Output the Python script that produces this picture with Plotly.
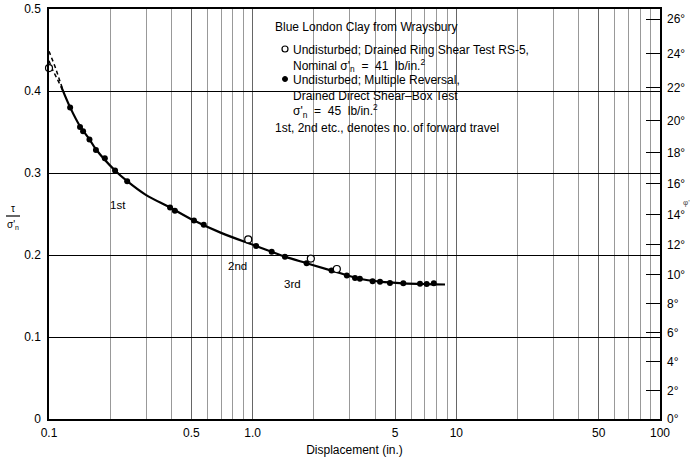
import math
import plotly.graph_objects as go

# ---- data ----
curve_x = [0.115, 0.127, 0.142, 0.158, 0.170, 0.211, 0.242, 0.30, 0.393, 0.515, 0.70,
           1.04, 1.44, 1.84, 2.44, 3.36, 4.22, 5.49, 7.15, 8.8]
curve_y = [0.405, 0.380, 0.357, 0.341, 0.329, 0.303, 0.290, 0.273, 0.258, 0.242, 0.227,
           0.211, 0.198, 0.190, 0.181, 0.171, 0.1675, 0.1655, 0.1645, 0.164]

dashA_x = [0.1, 0.107, 0.1175]
dashA_y = [0.4486, 0.430, 0.400]
dashB_x = [0.1, 0.1031, 0.1175]
dashB_y = [0.437, 0.428, 0.400]

box_x = [0.127, 0.142, 0.147, 0.158, 0.170, 0.188, 0.211, 0.242, 0.393, 0.415, 0.515, 0.575,
         1.04, 1.24, 1.44, 1.84, 2.44, 2.90, 3.18, 3.36, 3.88, 4.22, 4.72, 5.49, 6.63, 7.15, 7.75]
box_y = [0.380, 0.356, 0.351, 0.341, 0.328, 0.318, 0.303, 0.290, 0.258, 0.254, 0.242, 0.237,
         0.211, 0.204, 0.198, 0.190, 0.181, 0.175, 0.172, 0.171, 0.168, 0.1675, 0.166, 0.1655,
         0.1648, 0.1645, 0.1655]

ring_x = [0.1, 0.951, 1.93, 2.59]
ring_y = [0.428, 0.219, 0.1957, 0.1829]

x_tickvals = [0.1, 0.5, 1, 5, 10, 50, 100]
x_ticktext = ["0.1", "0.5", "1.0", "5", "10", "50", "100"]
minor_vals = [m * d for d in (0.1, 1, 10) for m in range(2, 10)]
deg_labels = list(range(0, 27, 2))

travel_labels = ["1st", "2nd", "3rd"]
travel_x = [0.218, 0.847, 1.56]
travel_y = [0.261, 0.186, 0.165]

FONT = "Liberation Sans, Arial, sans-serif"

fig = go.Figure()
fig.add_trace(go.Scatter(x=dashA_x, y=dashA_y, mode="lines",
                         line=dict(color="black", width=1.5, dash="4px,3px"), showlegend=False))
fig.add_trace(go.Scatter(x=dashB_x, y=dashB_y, mode="lines",
                         line=dict(color="black", width=1.5, dash="4px,3px"), showlegend=False))
fig.add_trace(go.Scatter(x=curve_x, y=curve_y, mode="lines", line_shape="spline",
                         line=dict(color="black", width=2.2), showlegend=False))
fig.add_trace(go.Scatter(x=box_x, y=box_y, mode="markers",
                         marker=dict(color="black", size=6), showlegend=False))
fig.add_trace(go.Scatter(x=ring_x, y=ring_y, mode="markers", cliponaxis=False,
                         marker=dict(color="white", size=7, line=dict(color="black", width=1.2)),
                         showlegend=False))
# dummy trace for secondary axis
fig.add_trace(go.Scatter(x=[0.1], y=[0], yaxis="y2", mode="markers",
                         marker=dict(opacity=0), showlegend=False, hoverinfo="skip"))

for t, xx, yy in zip(travel_labels, travel_x, travel_y):
    fig.add_annotation(x=math.log10(xx), y=yy, text=t, showarrow=False,
                       font=dict(size=11.5, color="black", family=FONT))

def px_x(p):
    return (p - 49) / 611.0

def px_y(p):
    return (419 - p) / 410.0

# legend block: (left px, top px, text)
legend_blocks = [
    (274, 19, "Blue London Clay from Wraysbury"),
    (292, 42, "Undisturbed; Drained Ring Shear Test RS-5,<br>"
              "Nominal σ'<sub>n</sub>  =  41  lb/in.<sup>2</sup>"),
    (292, 72, "Undisturbed; Multiple Reversal,<br>"
              "Drained Direct Shear–Box Test<br>"
              "σ'<sub>n</sub>  =  45  lb/in.<sup>2</sup>"),
    (274, 120, "1st, 2nd etc., denotes no. of forward travel"),
]
for lx, ly, txt in legend_blocks:
    fig.add_annotation(xref="paper", yref="paper", x=px_x(lx), y=px_y(ly), text=txt,
                       showarrow=False, xanchor="left", yanchor="top", align="left",
                       borderpad=0,
                       font=dict(size=12, color="black", family=FONT))
# legend symbols (key glyphs)
fig.add_shape(type="circle", xref="paper", yref="paper",
              x0=px_x(282), x1=px_x(288), y0=px_y(46), y1=px_y(52),
              line=dict(color="black", width=1.2), fillcolor="white")
fig.add_shape(type="circle", xref="paper", yref="paper",
              x0=px_x(282.5), x1=px_x(287.5), y0=px_y(76.5), y1=px_y(81.5),
              line=dict(color="black", width=1), fillcolor="black")

# y-axis fraction label
fig.add_annotation(xref="paper", yref="paper", x=px_x(13), y=px_y(208), text="τ",
                   xanchor="center", yanchor="middle",
                   showarrow=False, font=dict(size=10, color="black", family=FONT))
fig.add_annotation(xref="paper", yref="paper", x=px_x(13), y=px_y(225), text="σ'<sub>n</sub>",
                   xanchor="center", yanchor="middle",
                   showarrow=False, font=dict(size=10, color="black", family=FONT))
fig.add_shape(type="line", xref="paper", yref="paper", x0=px_x(6), x1=px_x(20),
              y0=px_y(216), y1=px_y(216), line=dict(color="black", width=1.2))
fig.add_annotation(xref="paper", yref="paper", x=px_x(692), y=px_y(202), text="φ'",
                   showarrow=False, font=dict(size=8, color="#555", family=FONT))

fig.update_layout(
    width=696, height=457,
    margin=dict(l=49, r=36, t=9, b=38),
    paper_bgcolor="white", plot_bgcolor="white",
    font=dict(family=FONT, size=12, color="black"),
    xaxis=dict(type="log", range=[-1, 2], tickvals=x_tickvals, ticktext=x_ticktext,
               showgrid=True, gridcolor="#666", gridwidth=1,
               minor=dict(tickvals=minor_vals, showgrid=True, gridcolor="#999", gridwidth=1,
                          ticklen=0),
               showline=True, linecolor="black", linewidth=1.5, mirror=True,
               ticks="", ticklabelstandoff=2, automargin=False,
               title=dict(text="Displacement (in.)", standoff=6, font=dict(size=12)),
               zeroline=False),
    yaxis=dict(range=[0, 0.5], dtick=0.1, showgrid=True, gridcolor="black", gridwidth=1,
               showline=True, linecolor="black", linewidth=1.5, mirror=True, automargin=False,
               ticks="", zeroline=False, ticklabelstandoff=4),
    yaxis2=dict(range=[0, 0.5], overlaying="y", side="right", automargin=False,
                tickvals=[math.tan(math.radians(d)) for d in deg_labels],
                ticktext=[f"{d}°" for d in deg_labels],
                ticks="inside", ticklen=14, tickcolor="black", tickwidth=1.2,
                ticklabelstandoff=6,
                showgrid=False, zeroline=False, showline=False),
)

fig.write_html("out.html")
